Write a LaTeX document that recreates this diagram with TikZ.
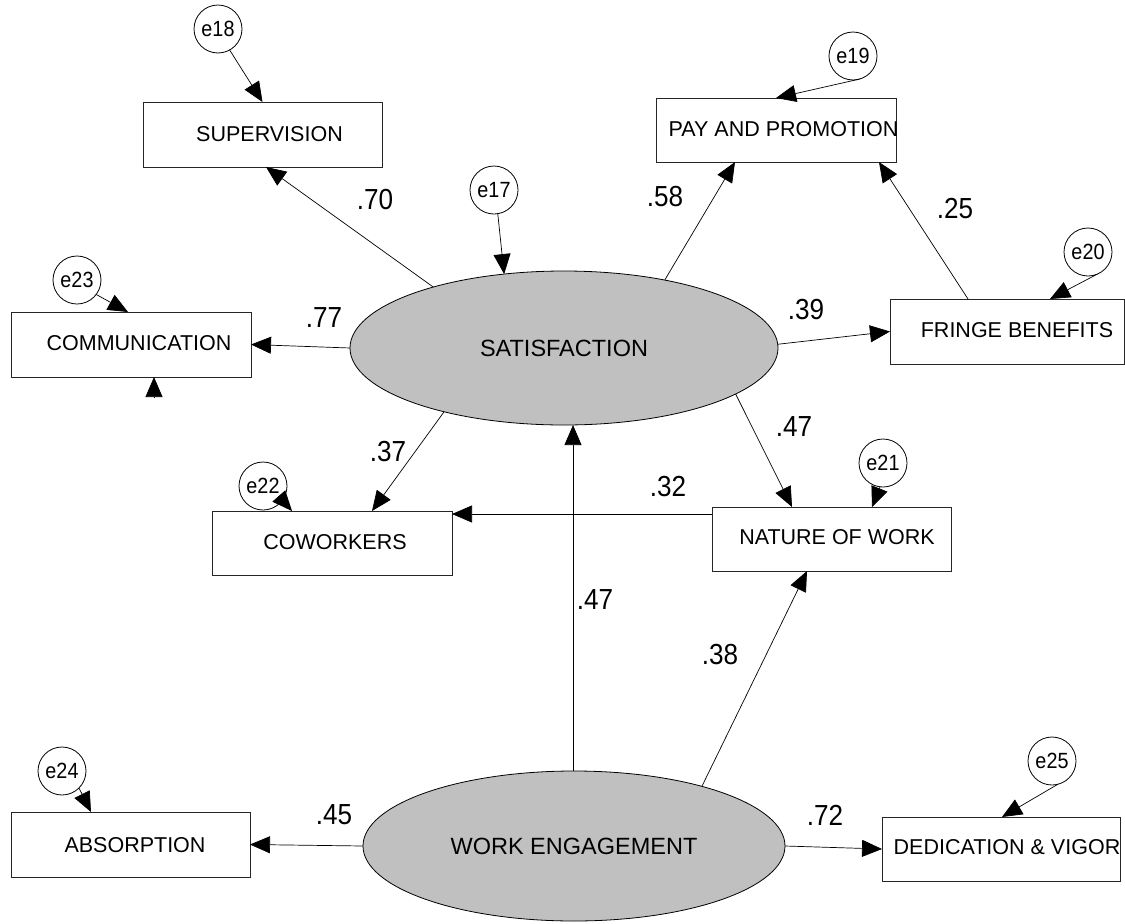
\documentclass[tikz,border=0pt]{standalone}
\usepackage{fontspec}
\setmainfont{Liberation Sans}
\newfontfamily\numfont[FakeStretch=0.9]{Liberation Sans}
\usetikzlibrary{arrows.meta,shapes.geometric,calc}
\definecolor{silverfill}{RGB}{192,192,192}
\begin{document}
\begin{tikzpicture}[x=1pt,y=-1pt,
  box/.style={draw=black!85, line width=0.8pt, rectangle, inner sep=0pt, outer sep=0pt},
  latent/.style={draw=black, line width=0.8pt, ellipse, fill=silverfill, inner sep=0pt, outer sep=0pt, font=\fontsize{23.5}{28}\selectfont},
  err/.style={draw=black, line width=0.8pt, circle, fill=white, minimum size=48pt, inner sep=0pt, outer sep=0pt, font=\numfont\fontsize{22}{24}\selectfont},
  lbl/.style={inner sep=0pt, font=\fontsize{21.5}{25}\selectfont},
  coef/.style={inner sep=0pt, font=\numfont\fontsize{29}{32}\selectfont},
  arr/.style={line width=0.7pt, -{Triangle[length=20pt,width=17pt]}}]
\useasboundingbox (0,0) rectangle (1125,924);

% observed variables
\node[box, minimum width=239pt, minimum height=65pt] (sup) at (262.5,134.5) {};
\node[lbl] (supT) at (269.5,134) {SUPERVISION};
\node[box, minimum width=240pt, minimum height=64pt] (pay) at (776,130) {};
\node[lbl] (payT) at (783.5,129) {PAY AND PROMOTION};
\node[box, minimum width=234pt, minimum height=65pt] (fri) at (1007,331.5) {};
\node[lbl] (friT) at (1017,330) {FRINGE BENEFITS};
\node[box, minimum width=240pt, minimum height=65pt] (com) at (131,344.5) {};
\node[lbl] (comT) at (139,343) {COMMUNICATION};
\node[box, minimum width=240pt, minimum height=64pt] (cow) at (332,543) {};
\node[lbl] (cowT) at (335,542) {COWORKERS};
\node[box, minimum width=239pt, minimum height=64pt] (nat) at (831.5,539) {};
\node[lbl] (natT) at (837,537) {NATURE OF WORK};
\node[box, minimum width=239pt, minimum height=65pt] (abs) at (130.5,844.5) {};
\node[lbl] (absT) at (135,845) {ABSORPTION};
\node[box, minimum width=238pt, minimum height=64pt] (ded) at (1001,849) {};
\node[lbl] (dedT) at (1007,847) {DEDICATION \& VIGOR};

% latent variables
\node[latent, minimum width=428pt, minimum height=154pt] (sat) at (564,348) {SATISFACTION};
\node[latent, minimum width=422pt, minimum height=150pt] (we) at (574,846) {WORK ENGAGEMENT};

% error terms
\node[err] (e18) at (218,29) {e18};
\node[err] (e17) at (494,190) {e17};
\node[err] (e19) at (853,56) {e19};
\node[err] (e20) at (1088,252) {e20};
\node[err] (e23) at (77,280) {e23};
\node[err] (e22) at (263,486) {e22};
\node[err] (e21) at (883,463) {e21};
\node[err] (e24) at (62,771) {e24};
\node[err] (e25) at (1052,761) {e25};

% error arrows
\draw[arr] (e18.299) -- (sup.north);
\draw[arr] (e17.279) -- (sat.129);
\draw[arr] (e19.286) -- (pay.north);
\draw[arr] (e20.293) -- ([xshift=43pt]fri.north);
\draw[arr] (e23.323) -- ([xshift=-3pt]com.north);
\draw[arr] (e22.324) -- ([xshift=-40pt]cow.north);
\draw[arr] (e21.263) -- ([xshift=40.5pt]nat.north);
\draw[arr] (e24.315) -- ([xshift=-39.5pt]abs.north);
\draw[arr] (e25.284) -- ([xshift=1pt]ded.north);

% stray arrow head below COMMUNICATION
\coordinate (stray) at (154,397);
\draw[arr] (stray) -- ([xshift=23pt]com.south);

% structural paths
\draw[arr] (sat.155) -- ([xshift=3.5pt]sup.south);
\draw[arr] (sat.34) -- ([xshift=-41pt]pay.south);
\draw[arr] ([xshift=-39pt]fri.north) -- ([xshift=103pt]pay.south);
\draw[arr] (sat.1) -- (fri.west);
\draw[arr] (sat.180) -- (com.east);
\draw[arr] (sat.208) -- ([xshift=40pt]cow.north);
\draw[arr] (sat.345) -- ([xshift=-39.5pt]nat.north);
\draw[arr] ([yshift=-7pt]nat.north west) -- ([yshift=-3pt]cow.north east);
\draw[arr] ([xshift=-1pt]we.north) -- ([xshift=9pt]sat.south);
\draw[arr] (we.25) -- ([xshift=-24.5pt]nat.south);
\draw[arr] (we.180) -- (abs.east);
\draw[arr] (we.0) -- (ded.west);

% coefficients
\node[coef] (c70) at (375,200) {.70};
\node[coef] (c58) at (665,197) {.58};
\node[coef] (c25) at (955,209) {.25};
\node[coef] (c77) at (324,318) {.77};
\node[coef] (c39) at (806,310) {.39};
\node[coef] (c47a) at (794,427) {.47};
\node[coef] (c37) at (388,452) {.37};
\node[coef] (c32) at (668,487) {.32};
\node[coef] (c47b) at (595,600) {.47};
\node[coef] (c38) at (720,655) {.38};
\node[coef] (c45) at (334,815) {.45};
\node[coef] (c72) at (825,815) {.72};
\end{tikzpicture}
\end{document}
